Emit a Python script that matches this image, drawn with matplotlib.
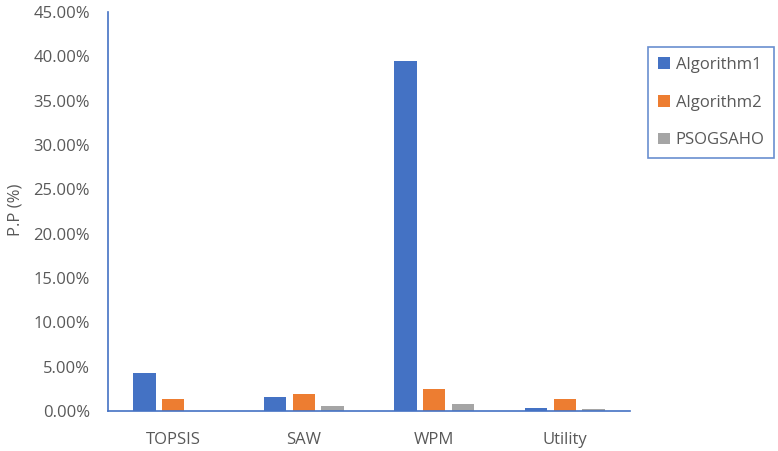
import matplotlib
matplotlib.use("Agg")
import matplotlib.pyplot as plt
import numpy as np
from matplotlib.ticker import FuncFormatter

categories = ["TOPSIS", "SAW", "WPM", "Utility"]
series_names = ["Algorithm1", "Algorithm2", "PSOGSAHO"]
algorithm1 = [4.25, 1.55, 39.5, 0.38]
algorithm2 = [1.35, 1.88, 2.52, 1.35]
psogsaho = [0.05, 0.56, 0.83, 0.2]
colors = ["#4472C4", "#ED7D31", "#A5A5A5"]

plt.rcParams['font.family'] = ['Open Sans', 'DejaVu Sans']
text_color = "#595959"
axis_color = "#4472C4"

fig = plt.figure(figsize=(7.78, 4.51), dpi=100)
ax = fig.add_axes([108/778, 1-411/451, (630-108)/778, (411-12)/451])

x = np.arange(len(categories))
w = 0.17
off = 0.22
for i, (vals, name) in enumerate(zip([algorithm1, algorithm2, psogsaho], series_names)):
    ax.bar(x + (i-1)*off, vals, width=w, color=colors[i], label=name)

ax.set_xlim(-0.5, len(categories)-0.5)
ax.set_ylim(0, 45)
ax.set_yticks(np.arange(0, 46, 5))
ax.yaxis.set_major_formatter(FuncFormatter(lambda v, p: f"{v:.2f}%"))
ax.set_xticks(x)
ax.set_xticklabels(categories)
ax.tick_params(axis='both', length=0, colors=text_color, labelsize=12)
ax.tick_params(axis='x', pad=15)
ax.tick_params(axis='y', pad=13)
for s in ["top", "right"]:
    ax.spines[s].set_visible(False)
for s in ["left", "bottom"]:
    ax.spines[s].set_color(axis_color)
    ax.spines[s].set_linewidth(1.2)

ax.set_ylabel("P.P (%)", color=text_color, fontsize=12)
ax.yaxis.set_label_coords((23-108)/522, 0.505)

leg = fig.legend(loc="upper left", bbox_to_anchor=(648/778, 1-47/451), frameon=True,
                 fancybox=False, fontsize=12, labelspacing=1.3, handlelength=0.7,
                 handleheight=0.7, handletextpad=0.35, borderpad=0.6, borderaxespad=0,
                 labelcolor=text_color)
leg.get_frame().set_edgecolor(axis_color)
leg.get_frame().set_linewidth(1.2)

fig.savefig("out.png", dpi=100)
